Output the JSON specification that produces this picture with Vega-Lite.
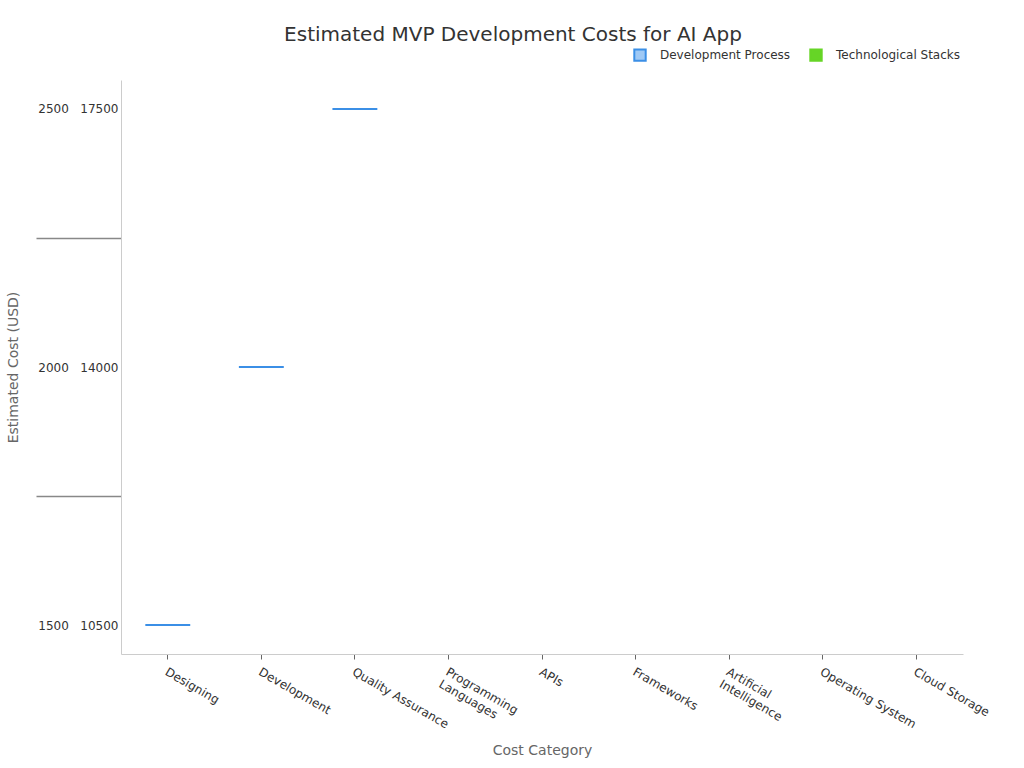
{
  "$schema": "https://vega.github.io/schema/vega-lite/v6.json",
  "width": 842,
  "height": 574,
  "autosize": {"type": "none"},
  "padding": {"left": 121, "top": 80, "right": 61, "bottom": 114},
  "background": "white",
  "config": {
    "font": "DejaVu Sans",
    "view": {"stroke": null}
  },
  "title": {
    "text": "Estimated MVP Development Costs for AI App",
    "fontSize": 20,
    "fontWeight": "normal",
    "color": "#333333",
    "anchor": "middle",
    "frame": "group",
    "dx": -29,
    "dy": 35,
    "offset": 38
  },
  "data": {
    "values": [
      {"category": "Designing", "series": "Development Process", "cost": 1500},
      {"category": "Development", "series": "Development Process", "cost": 2000},
      {"category": "Quality Assurance", "series": "Development Process", "cost": 2500},
      {"category": "Programming Languages", "series": "Technological Stacks", "cost": null},
      {"category": "APIs", "series": "Technological Stacks", "cost": null},
      {"category": "Frameworks", "series": "Technological Stacks", "cost": null},
      {"category": "Artificial Intelligence", "series": "Technological Stacks", "cost": null},
      {"category": "Operating System", "series": "Technological Stacks", "cost": null},
      {"category": "Cloud Storage", "series": "Technological Stacks", "cost": null}
    ]
  },
  "mark": {"type": "bar", "width": {"band": 0.48}, "strokeWidth": 2},
  "encoding": {
    "x": {
      "field": "category",
      "type": "nominal",
      "sort": null,
      "scale": {
        "domain": ["Designing", "Development", "Quality Assurance", "Programming Languages", "APIs", "Frameworks", "Artificial Intelligence", "Operating System", "Cloud Storage"],
        "paddingInner": 0,
        "paddingOuter": 0
      },
      "axis": {
        "title": "Cost Category",
        "titleFontSize": 14,
        "titleFontWeight": "normal",
        "titleColor": "#666666",
        "titlePadding": 14,
        "labelAngle": 30,
        "labelAlign": "left",
        "labelBaseline": "top",
        "labelFontSize": 12,
        "labelColor": "#333333",
        "labelPadding": 7,
        "labelOffset": 1,
        "labelExpr": "datum.value == 'Programming Languages' ? ['Programming', 'Languages'] : datum.value == 'Artificial Intelligence' ? ['Artificial', 'Intelligence'] : datum.value",
        "domainColor": "#cccccc",
        "tickColor": "#666666",
        "tickSize": 5,
        "grid": false
      }
    },
    "y": {
      "field": "cost",
      "type": "quantitative",
      "scale": {"domain": [1444, 2556], "nice": false, "zero": false},
      "axis": {
        "title": "Estimated Cost (USD)",
        "titleFontSize": 14,
        "titleFontWeight": "normal",
        "titleColor": "#666666",
        "titlePadding": 15,
        "values": [1500, 1750, 2000, 2250, 2500],
        "labelExpr": "datum.value == 2500 ? '2500\u00a0\u00a0\u00a017500' : datum.value == 2000 ? '2000\u00a0\u00a0\u00a014000' : datum.value == 1500 ? '1500\u00a0\u00a0\u00a010500' : ''",
        "labelFontSize": 12,
        "labelColor": "#333333",
        "labelPadding": -82,
        "tickSize": 85,
        "tickWidth": 1.5,
        "tickColor": "#888888",
        "tickOpacity": {"condition": {"test": "datum.value == 1750 || datum.value == 2250", "value": 1}, "value": 0},
        "domainColor": "#cccccc",
        "grid": false
      }
    },
    "y2": {"field": "cost"},
    "fill": {
      "field": "series",
      "type": "nominal",
      "scale": {"domain": ["Development Process", "Technological Stacks"], "range": ["#9fc9f5", "#66d526"]},
      "legend": {
        "title": null,
        "orient": "none",
        "direction": "horizontal",
        "legendX": 512,
        "legendY": -32,
        "symbolType": "square",
        "symbolSize": 130,
        "symbolStrokeWidth": 2,
        "labelFontSize": 12,
        "labelColor": "#333333",
        "labelOffset": 13,
        "columnPadding": 15
      }
    },
    "stroke": {
      "field": "series",
      "type": "nominal",
      "scale": {"domain": ["Development Process", "Technological Stacks"], "range": ["#3b8fe6", "#66d526"]},
      "legend": {
        "title": null,
        "orient": "none",
        "direction": "horizontal",
        "legendX": 512,
        "legendY": -32,
        "symbolType": "square",
        "symbolSize": 130,
        "symbolStrokeWidth": 2,
        "labelFontSize": 12,
        "labelColor": "#333333",
        "labelOffset": 13,
        "columnPadding": 15
      }
    }
  }
}
